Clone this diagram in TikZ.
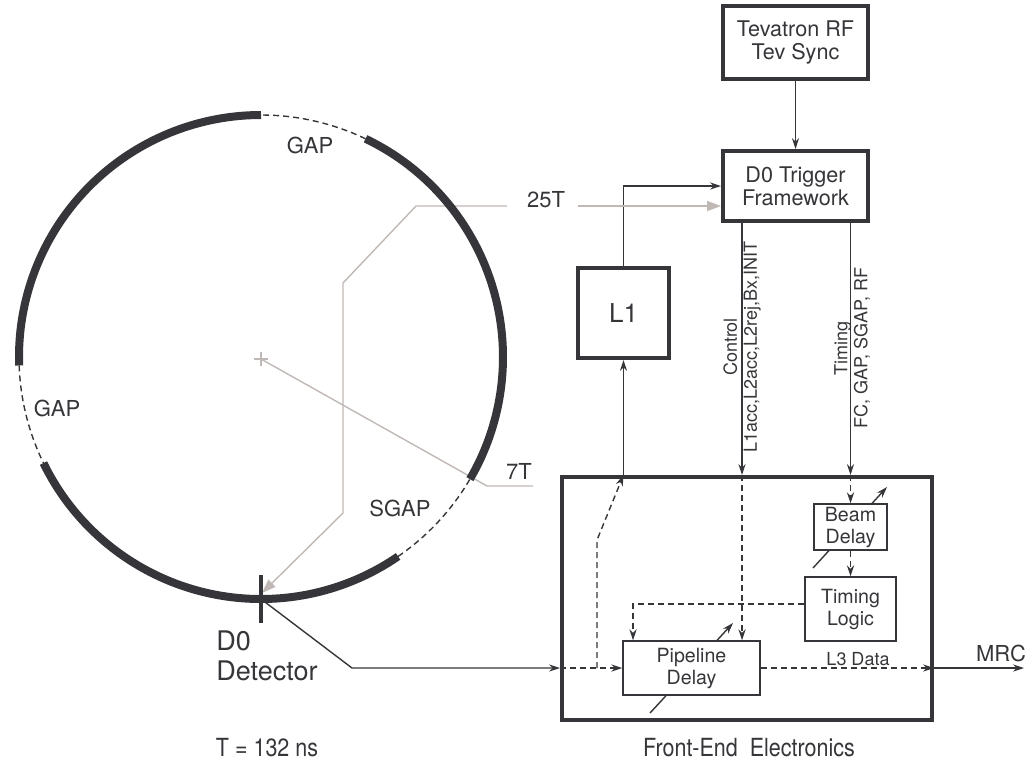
\documentclass[tikz,border=0pt]{standalone}
\usepackage{fontspec}
\setmainfont{TeX Gyre Heros}
\newfontfamily\narrowfont[FakeStretch=0.86]{TeX Gyre Heros}
\usetikzlibrary{arrows.meta}
\definecolor{ink}{HTML}{36363A}
\definecolor{greyline}{HTML}{C0B8B5}
\begin{document}
\begin{tikzpicture}[x=0.5pt,y=-0.5pt,
  thickbox/.style={draw=ink, line width=2pt, fill=white, text=ink, align=center, inner sep=0pt,
    font=\fontsize{10.8}{11.5}\selectfont},
  thinbox/.style={draw=ink, line width=0.7pt, fill=white, text=ink, align=center, inner sep=0pt,
    font=\fontsize{9.8}{11}\selectfont},
  conn/.style={draw=ink, line width=0.7pt},
  arr/.style={-{Stealth[length=5.5pt,width=3.6pt]}},
  dsh/.style={dash pattern=on 3pt off 2pt},
  gconn/.style={draw=greyline, line width=0.7pt},
  garr/.style={-{Triangle[length=7pt,width=5pt]}},
  ring/.style={draw=ink, line width=4pt},
  gapline/.style={draw=ink, line width=0.7pt, dash pattern=on 3pt off 2pt},
  lbl/.style={text=ink, inner sep=0pt, font=\fontsize{11}{13}\selectfont},
  smalllbl/.style={text=ink, inner sep=0pt, align=center, font=\fontsize{9}{10}\selectfont},
  narrowlbl/.style={text=ink, inner sep=0pt, font=\narrowfont\fontsize{12.5}{14}\selectfont}
]
\useasboundingbox (0,0) rectangle (1026,768);

% ring geometry
\coordinate (C) at (261,357);
\coordinate (X) at (261,359);
\coordinate (d0) at (261,599);
\coordinate (d0top) at (262,593);

% grey timing paths (behind ring)
\coordinate (g1) at (507,206);
\coordinate (g2) at (416,206);
\coordinate (g3) at (343,283);
\coordinate (g4) at (343,513);
\coordinate (g5) at (578,206);
\draw[gconn, garr] (g1) -- (g2) -- (g3) -- (g4) -- (d0top);
\coordinate (s1) at (487,486);
\coordinate (s2) at (533,486);
\draw[gconn] (X) -- (s1) -- (s2);
\draw[gconn] (X) ++(-7,0) -- ++(14,0);
\draw[gconn] (X) ++(0,-7) -- ++(0,14);

% ring segments
\draw[ring] (C) ++(-90:242) arc[start angle=-90, end angle=-182, radius=242];
\draw[gapline] (C) ++(-182:242) arc[start angle=-182, end angle=-206, radius=242];
\draw[ring] (C) ++(-206:242) arc[start angle=-206, end angle=-304.5, radius=242];
\draw[gapline] (C) ++(-304.5:242) arc[start angle=-304.5, end angle=-329.7, radius=242];
\draw[ring] (C) ++(-329.7:242) arc[start angle=-329.7, end angle=-424.4, radius=242];
\draw[gapline] (C) ++(-64.4:242) arc[start angle=-64.4, end angle=-90, radius=242];

% D0 tick
\coordinate (t1) at (261,575);
\coordinate (t2) at (261,623);
\draw[draw=ink, line width=2pt] (t1) -- (t2);

% ring labels
\node[lbl] (gaptop) at (310,145) {GAP};
\node[lbl] (gapleft) at (57,408) {GAP};
\node[lbl] (sgap) at (400,508) {SGAP};
\node[lbl] (l25) at (546,200) {25T};
\node[lbl] (l7) at (519,471) {7T};
\node[text=ink, inner sep=0pt, align=left, anchor=north west,
  font=\fontsize{13.5}{15}\selectfont] (d0lbl) at (216,630) {D0\\Detector};

% boxes
\node[thickbox, minimum width=72.5pt, minimum height=36.5pt] (tev) at (795.5,42.5) {Tevatron RF\\Tev Sync};
\node[thickbox, minimum width=72.5pt, minimum height=35pt] (trig) at (795.5,186) {D0 Trigger\\Framework};
\node[thickbox, minimum width=45.5pt, minimum height=45pt, font=\fontsize{13}{14}\selectfont] (L1) at (623.5,313) {L1};
\node[draw=ink, line width=2pt, minimum width=185pt, minimum height=121.5pt, inner sep=0pt] (fe) at (747,598.5) {};

% variable-delay arrows (behind small boxes)
\coordinate (bv1) at (813,568);
\coordinate (bv2) at (887,487);
\draw[conn, arr] (bv1) -- (bv2);
\coordinate (pv1) at (650,713);
\coordinate (pv2) at (733,623);
\draw[conn, arr] (pv1) -- (pv2);

\node[thinbox, minimum width=36.5pt, minimum height=23pt] (beam) at (850.5,527) {Beam\\Delay};
\node[thinbox, minimum width=45.5pt, minimum height=32pt] (tlog) at (850.5,609) {Timing\\Logic};
\node[thinbox, minimum width=68.5pt, minimum height=27pt] (pipe) at (691.5,668) {Pipeline\\Delay};

% top connections
\draw[conn, arr] (tev.south) -- (trig.north);
\draw[conn, arr] (L1.north) |- (trig.west);
\draw[gconn, garr] (g5) -- ([yshift=-10pt]trig.west);

% control
\coordinate (ctl) at (742,400);
\draw[conn, arr] (trig.south -| ctl) -- (fe.north -| ctl);
\draw[conn, dsh, arr] (fe.north -| ctl) -- (pipe.north -| ctl);
\node[smalllbl, rotate=90] (ctllbl) at (742,347) {Control\\L1acc,L2acc,L2rej,Bx,INIT};

% timing
\draw[conn, arr] (trig.south -| beam.north) -- (fe.north -| beam.north);
\draw[conn, dsh, arr] (fe.north -| beam.north) -- (beam.north);
\node[smalllbl, rotate=90] (timlbl) at (852,348) {Timing\\FC, GAP, SGAP, RF};
\draw[conn, dsh, arr] (beam.south) -- (tlog.north);

% timing logic to pipeline
\coordinate (tp) at (633,604);
\draw[conn, dsh, arr] (tlog.west |- tp) -- (tp) -- (tp |- pipe.north);

% detector input
\coordinate (bend) at (352,668);
\draw[conn, arr] (d0) -- (bend) -- (fe.west |- pipe.west);
\draw[conn, dsh, arr] (fe.west |- pipe.west) -- (pipe.west);
\coordinate (br) at (597,668);
\coordinate (br2) at (597,540);
\draw[conn, dsh, arr] (br) -- (br2) -- (fe.north -| L1.south);
\draw[conn, arr] (fe.north -| L1.south) -- (L1.south);

% output
\coordinate (mrc) at (1024,668);
\draw[conn, dsh, arr] (pipe.east) -- (fe.east |- pipe.east);
\draw[conn, arr] (fe.east |- pipe.east) -- (mrc);
\node[lbl, font=\fontsize{9}{10}\selectfont] (l3) at (858,659) {L3 Data};
\node[lbl] (mrclbl) at (1001,653) {MRC};

% bottom captions
\node[narrowlbl] (tcap) at (267,748) {T = 132 ns};
\node[narrowlbl] (fecap) at (749,748) {Front-End\ \ Electronics};
\end{tikzpicture}
\end{document}
